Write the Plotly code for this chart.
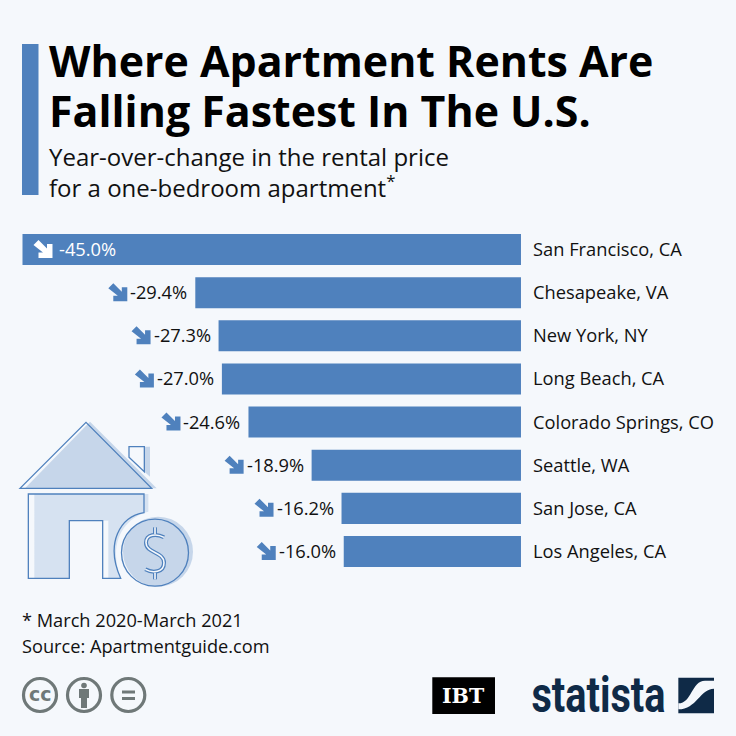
import plotly.graph_objects as go

cities = ["San Francisco, CA", "Chesapeake, VA", "New York, NY", "Long Beach, CA",
          "Colorado Springs, CO", "Seattle, WA", "San Jose, CA", "Los Angeles, CA"]
changes = [-45.0, -29.4, -27.3, -27.0, -24.6, -18.9, -16.2, -16.0]
title_lines = ["Where Apartment Rents Are", "Falling Fastest In The U.S."]
subtitle_lines = ["Year-over-change in the rental price", "for a one-bedroom apartment<sup>*</sup>"]
notes = ["* March 2020-March 2021", "Source: Apartmentguide.com"]

BG = "#f5f8fc"
BLUE = "#4f81bd"
LIGHT = "#c6d6ea"
LIGHTER = "#d6e2f1"
GRAY = "#6f7878"
NAVY = "#0f2a47"
INK = "#111111"
FONT = "Open Sans"
W = 736.0


def px(x):
    return x / W


def py(y):
    return 1 - y / W


def path(points, close=True):
    d = "M" + " L".join(f"{px(x):.5f},{py(y):.5f}" for x, y in points)
    return d + (" Z" if close else "")


def curve(cmds):
    out = []
    for c in cmds:
        op, pts = c[0], c[1:]
        out.append(op + " ".join(f"{px(x):.5f},{py(y):.5f}" for x, y in pts))
    return " ".join(out)


shapes = []
annotations = []


def poly(points, fill=None, line=None, width=1.3, close=True):
    shapes.append(dict(type="path", xref="paper", yref="paper", path=path(points, close),
                       fillcolor=fill or "rgba(0,0,0,0)", layer="above",
                       line=dict(color=line or "rgba(0,0,0,0)", width=width if line else 0)))


def cpath(cmds, fill=None, line=None, width=1.3):
    shapes.append(dict(type="path", xref="paper", yref="paper", path=curve(cmds),
                       fillcolor=fill or "rgba(0,0,0,0)", layer="above",
                       line=dict(color=line or "rgba(0,0,0,0)", width=width if line else 0)))


def circle(cx, cy, r, fill=None, line=None, width=1.3):
    shapes.append(dict(type="circle", xref="paper", yref="paper",
                       x0=px(cx - r), x1=px(cx + r), y0=py(cy + r), y1=py(cy - r),
                       fillcolor=fill or "rgba(0,0,0,0)", layer="above",
                       line=dict(color=line or "rgba(0,0,0,0)", width=width if line else 0)))


def txt(x, y, s, size, color=INK, weight=400, anchor="left", family=FONT):
    annotations.append(dict(xref="paper", yref="paper", x=px(x), y=py(y), text=s, showarrow=False,
                            xanchor=anchor, yanchor="middle", borderpad=0, borderwidth=0,
                            font=dict(family=family, size=size, color=color, weight=weight)))


# header
poly([(22, 44), (38.5, 44), (38.5, 195), (22, 195)], fill=BLUE)
for line, y in zip(title_lines, [61, 111]):
    txt(49, y, line, 42.9, color="#000000", weight=700)
for line, y in zip(subtitle_lines, [157, 186]):
    txt(49, y, line, 24)
for line, y in zip(notes, [620, 646]):
    txt(22, y, line, 18.2)

# arrows and labels attached to the value scale
ARROW = [(5, 0), (13.5, 8.5), (13.5, 4), (19, 4), (19, 18), (5, 18), (5, 12.5), (9.5, 12.5), (0, 5)]


def arrow(anchor_x, city, dx, color):
    d = "M" + " L".join(f"{dx + x},{9.5 - y}" for x, y in ARROW) + " Z"
    shapes.append(dict(type="path", xref="x", yref="y", xsizemode="pixel", ysizemode="pixel",
                       xanchor=anchor_x, yanchor=city, path=d, fillcolor=color, layer="above",
                       line=dict(width=0)))


for i, (city, v) in enumerate(zip(cities, changes)):
    label = f"{v:.1f}%"
    annotations.append(dict(xref="x", yref="y", x=0, y=city, text=city, showarrow=False,
                            xanchor="left", xshift=10.5, yshift=1, yanchor="middle",
                            font=dict(family=FONT, size=18.3, color=INK)))
    if i == 0:
        annotations.append(dict(xref="x", yref="y", x=v, y=city, text=label, showarrow=False,
                                xanchor="left", xshift=34.5, yshift=1, yanchor="middle",
                                font=dict(family=FONT, size=18.3, color="#ffffff")))
        arrow(v, city, 11, "#ffffff")
    else:
        annotations.append(dict(xref="x", yref="y", x=v, y=city, text=label, showarrow=False,
                                xanchor="right", xshift=-6, yshift=1, yanchor="middle",
                                font=dict(family=FONT, size=18.3, color=INK)))
        arrow(v, city, -87, BLUE)


# house icon (coordinates from a 3x crop with origin 0,410)
def Z(x, y):
    return (x / 3, 410 + y / 3)


poly([Z(75, 235), Z(270, 35), Z(470, 235)], fill=LIGHT)
poly([Z(395, 110), Z(450, 110), Z(450, 200), Z(433, 185), Z(433, 110)], fill=LIGHT)
cpath([("M", Z(103, 252)), ("L", Z(445, 252)), ("L", Z(445, 305)),
       ("C", Z(380, 320), Z(320, 390), Z(362, 505)), ("L", Z(325, 505)), ("L", Z(325, 332)),
       ("L", Z(208, 332)), ("L", Z(208, 505)), ("L", Z(103, 505)), ("Z",)], fill=LIGHTER)
poly([Z(60, 235), Z(258, 37), Z(455, 235)], line=BLUE)
poly([Z(387, 110), Z(433, 110), Z(433, 185), Z(387, 142)], line=BLUE)
cpath([("M", Z(85, 252)), ("L", Z(432, 252)), ("L", Z(432, 308)),
       ("C", Z(360, 320), Z(315, 400), Z(362, 505)), ("L", Z(308, 505)), ("L", Z(308, 332)),
       ("L", Z(208, 332)), ("L", Z(208, 505)), ("L", Z(85, 505)), ("Z",)], line=BLUE)
circle(158, 551.7, 36, fill=BG)
circle(158, 551.7, 35, fill=LIGHT)
circle(155, 552.7, 33.5, line=BLUE)
S = [("M", Z(492, 382)), ("C", Z(470, 370), Z(438, 372), Z(438, 398)),
     ("C", Z(438, 430), Z(492, 425), Z(492, 458)), ("C", Z(492, 488), Z(458, 490), Z(436, 478))]
for w, col in [(4, BLUE), (1.6, BG)]:
    cpath(S, line=col, width=w)
    poly([Z(465, 352), Z(465, 372)], line=col, width=w, close=False)
    poly([Z(465, 488), Z(465, 508)], line=col, width=w, close=False)

# licence icons
for cx in [40, 84, 128.3]:
    circle(cx, 695, 16.5, line=GRAY, width=3.2)
txt(40, 694, "cc", 19, color=GRAY, weight=700, anchor="center", family="DejaVu Sans")
circle(84, 685.5, 2.8, fill=GRAY)
poly([(79, 689), (89, 689), (89, 698), (87, 698), (87, 708), (81, 708), (81, 698), (79, 698)], fill=GRAY)
poly([(122, 690.5), (135, 690.5), (135, 693.5), (122, 693.5)], fill=GRAY)
poly([(122, 697), (135, 697), (135, 700), (122, 700)], fill=GRAY)

# logos
poly([(432.3, 677.3), (495, 677.3), (495, 714), (432.3, 714)], fill="#000000")
txt(463.6, 696, "IBT", 20.5, color="#ffffff", weight=700, anchor="center", family="DejaVu Serif")
txt(598, 695, "statista", 50, color=NAVY, weight=700, anchor="center", family="Roboto")


def L(x, y):
    return (420 + x / 3, 660 + y / 3)


poly([L(775, 53), L(882, 53), L(882, 160), L(775, 160)], fill=NAVY)
cpath([("M", L(775, 130)), ("C", L(815, 130), L(815, 62), L(855, 62)), ("L", L(882, 62)),
       ("L", L(882, 86)), ("C", L(840, 86), L(830, 148), L(775, 148)), ("Z",)], fill=BG)

# scale: 0 at x=521 px, -45 at x=22.5 px; rows 43.14 px apart starting at y=249.5 px
fig = go.Figure(go.Bar(x=changes, y=cities, orientation="h", width=0.72,
                       marker=dict(color=BLUE, line=dict(width=0)), hoverinfo="skip"))
fig.update_layout(
    width=736, height=736, margin=dict(l=0, r=0, t=0, b=0), autosize=False,
    paper_bgcolor=BG, plot_bgcolor=BG, showlegend=False,
    xaxis=dict(range=[-47.03, 19.41], visible=False, fixedrange=True),
    yaxis=dict(type="category", categoryorder="array", categoryarray=cities,
               range=[11.277, -5.784], visible=False, fixedrange=True),
    shapes=shapes, annotations=annotations,
)
# page without its default margin; the wordmark is condensed to the logo's width
post = """
document.documentElement.style.margin='0';
document.body.style.margin='0';
document.body.style.background='#f5f8fc';
document.body.style.overflow='hidden';
function squeeze(){
  document.querySelectorAll('.annotation-text').forEach(function(t){
    if(t.textContent==='statista'){
      t.setAttribute('textLength','134');
      t.setAttribute('lengthAdjust','spacingAndGlyphs');
    }
  });
}
squeeze(); setTimeout(squeeze,50); setTimeout(squeeze,300);
"""
fig.write_html("out.html", config=dict(displayModeBar=False), post_script=post)
